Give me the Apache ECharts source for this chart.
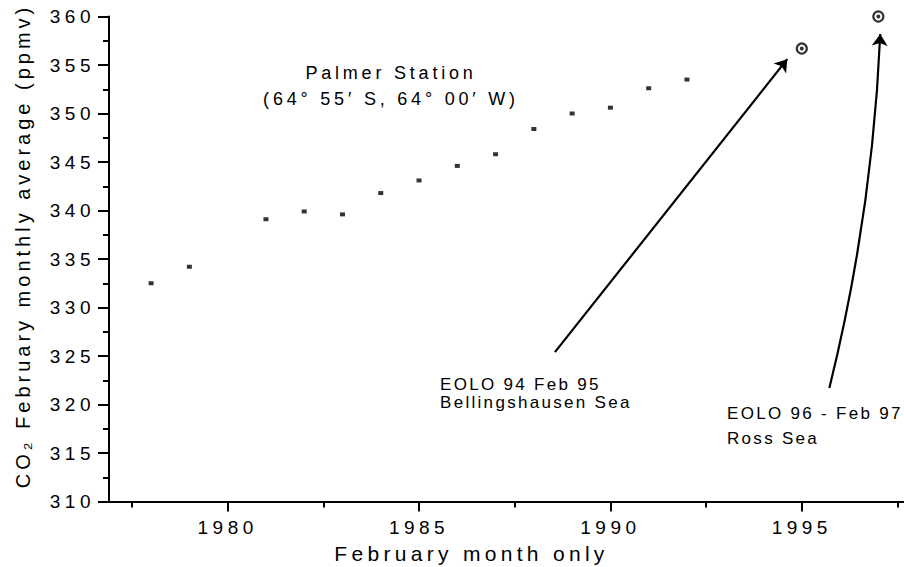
<!DOCTYPE html>
<html><head><meta charset="utf-8">
<script src="https://cdn.jsdelivr.net/npm/echarts@6/dist/echarts.min.js"></script>
<style>
html,body{margin:0;padding:0;background:#fff;}
#c{width:904px;height:567px;}
#c text[style*="19px"]{letter-spacing:4.5px;}
#c text[style*="20px"]{letter-spacing:4px;}
#c text[style*="21px"]{letter-spacing:4.3px;}
#c text[style*="18px"]{letter-spacing:3.8px;}
#c text[style*="17px"]{letter-spacing:2.3px;}
</style></head><body><div id="c"></div>
<script>
// ---- data ----
const palmerYears = [1978, 1979, 1981, 1982, 1983, 1984, 1985, 1986, 1987, 1988, 1989, 1990, 1991, 1992];
const palmerCO2   = [332.5, 334.2, 339.1, 339.9, 339.6, 341.8, 343.1, 344.6, 345.8, 348.4, 350.0, 350.6, 352.6, 353.5];
const eoloYears   = [1995, 1997];
const eoloCO2     = [356.7, 360.0];
const xTickLabels = [1980, 1985, 1990, 1995];
const yRange      = [310, 360];
const yStep       = 5;
const xRange      = [1976.9, 1997.67];
// annotation arrows (data space): from, to, curveness
const arrowFrom   = [[1988.55, 325.4], [1995.72, 321.7]];
const arrowTo     = [[1994.62, 355.6], [1997.05, 358.2]];
const arrowCurve  = [0, -0.05];

const F = 'Liberation Sans';
const chart = echarts.init(document.getElementById('c'), null, {renderer: 'svg'});

const option = {
  backgroundColor: '#fff',
  animation: false,
  grid: {left: 109, right: 0, top: 16.5, bottom: 65.5, containLabel: false, outerBoundsMode: 'none'},
  xAxis: {
    type: 'value', min: xRange[0], max: xRange[1],
    name: 'February month only', nameLocation: 'middle', nameGap: 41, nameMoveOverlap: false,
    nameTextStyle: {fontSize: 21, fontFamily: F, color: '#000', padding: [0, 70, 0, 0]},
    axisLine: {show: true, onZero: false, lineStyle: {color: '#000', width: 2}},
    axisTick: {show: true, length: 10, lineStyle: {color: '#000', width: 2}, customValues: xTickLabels},
    minorTick: {show: true, splitNumber: 2, length: 6, lineStyle: {color: '#000', width: 2}},
    axisLabel: {fontSize: 19, fontFamily: F, color: '#000', margin: 16, customValues: xTickLabels,
      formatter: v => (xTickLabels.indexOf(v) >= 0 ? String(v) : '')},
    splitLine: {show: false}, minorSplitLine: {show: false}
  },
  yAxis: {
    type: 'value', min: yRange[0], max: yRange[1], interval: yStep,
    name: 'CO\u2082 February monthly average (ppmv)',
    nameLocation: 'middle', nameGap: 76, nameMoveOverlap: false,
    nameTextStyle: {fontSize: 20, fontFamily: F, color: '#000', padding: [0, 0, 0, 26]},
    axisLine: {show: true, onZero: false, lineStyle: {color: '#000', width: 2}},
    axisTick: {show: true, length: 11, lineStyle: {color: '#000', width: 2}},
    minorTick: {show: true, splitNumber: 2, length: 6, lineStyle: {color: '#000', width: 2}},
    axisLabel: {fontSize: 19, fontFamily: F, color: '#000', margin: 14},
    splitLine: {show: false}, minorSplitLine: {show: false}
  },
  series: [
    {
      type: 'scatter', name: 'Palmer Station', clip: false,
      data: palmerYears.map((y, i) => [y, palmerCO2[i]]),
      symbol: 'rect', symbolSize: [5, 4],
      itemStyle: {color: '#000'}
    },
    {
      type: 'scatter', name: 'EOLO', clip: false,
      data: eoloYears.map((y, i) => [y, eoloCO2[i]]),
      symbol: 'circle', symbolSize: 10,
      itemStyle: {color: '#fff', borderColor: '#000', borderWidth: 2.2}
    },
    {
      type: 'scatter', name: 'EOLO centre', clip: false,
      data: eoloYears.map((y, i) => [y, eoloCO2[i]]),
      symbol: 'circle', symbolSize: 4,
      itemStyle: {color: '#000'}
    },
    {
      type: 'lines', coordinateSystem: 'cartesian2d', xAxisIndex: 0, yAxisIndex: 0,
      symbol: ['none', 'arrow'], symbolSize: 12, silent: true,
      lineStyle: {color: '#000', width: 2.2, opacity: 1},
      data: arrowFrom.map((f, i) => ({coords: [f, arrowTo[i]], lineStyle: {curveness: arrowCurve[i]}}))
    }
  ],
  graphic: [
    {type: 'text', x: 391, y: 72.5, style: {text: 'Palmer Station', fontSize: 18, fontFamily: F, fill: '#000', textAlign: 'center', textVerticalAlign: 'middle'}},
    {type: 'text', x: 391, y: 99, style: {text: '(64° 55′ S, 64° 00′ W)', fontSize: 18, fontFamily: F, fill: '#000', textAlign: 'center', textVerticalAlign: 'middle'}},
    {type: 'text', x: 440, y: 384, style: {text: 'EOLO 94 Feb 95', fontSize: 17, fontFamily: F, fill: '#000', textAlign: 'left', textVerticalAlign: 'middle'}},
    {type: 'text', x: 440, y: 402, style: {text: 'Bellingshausen Sea', fontSize: 17, fontFamily: F, fill: '#000', textAlign: 'left', textVerticalAlign: 'middle'}},
    {type: 'text', x: 727, y: 413.3, style: {text: 'EOLO 96 - Feb 97', fontSize: 17, fontFamily: F, fill: '#000', textAlign: 'left', textVerticalAlign: 'middle'}},
    {type: 'text', x: 727, y: 438.5, style: {text: 'Ross Sea', fontSize: 17, fontFamily: F, fill: '#000', textAlign: 'left', textVerticalAlign: 'middle'}}
  ]
};
chart.setOption(option);
</script>
</body></html>
